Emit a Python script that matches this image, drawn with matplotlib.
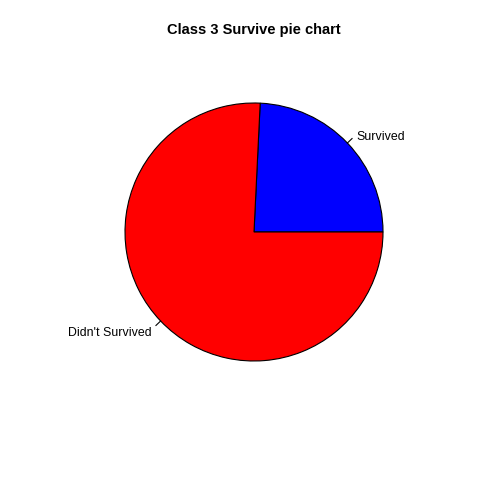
import numpy as np
import matplotlib.pyplot as plt

plt.rcParams['font.family'] = ['Liberation Sans', 'DejaVu Sans']

# class 3 passengers
labels = ["Survived", "Didn't Survived"]
counts = [119, 372]
colors = ['blue', 'red']

fig = plt.figure(figsize=(4.8, 4.8), dpi=100)
ax = fig.add_axes([0, 0, 1, 1])

cx, cy, r = 254, 248, 129
ax.pie(counts, colors=colors, startangle=0, counterclock=True,
       center=(cx, cy), radius=r, frame=True,
       wedgeprops=dict(edgecolor='black', linewidth=0.8))
ax.set_xlim(0, 480)
ax.set_ylim(0, 480)
ax.set_aspect('equal')
ax.axis('off')

# R style labels: short tick then text at 1.1 radius
fr = np.cumsum([0] + counts) / sum(counts)
for i, lab in enumerate(labels):
    a = np.pi * (fr[i] + fr[i + 1])
    px, py = np.cos(a), np.sin(a)
    ax.plot([cx + r * px, cx + 1.05 * r * px], [cy + r * py, cy + 1.05 * r * py],
            color='black', lw=0.8)
    ax.text(cx + 1.1 * r * px, cy + 1.1 * r * py - 3, lab, fontsize=8.9,
            ha='right' if px < 0 else 'left', va='center')

fig.text(254 / 480, 1 - 30 / 480, 'Class 3 Survive pie chart', fontsize=10.5,
         fontweight='bold', ha='center', va='center')

fig.savefig('out.png', dpi=100)
